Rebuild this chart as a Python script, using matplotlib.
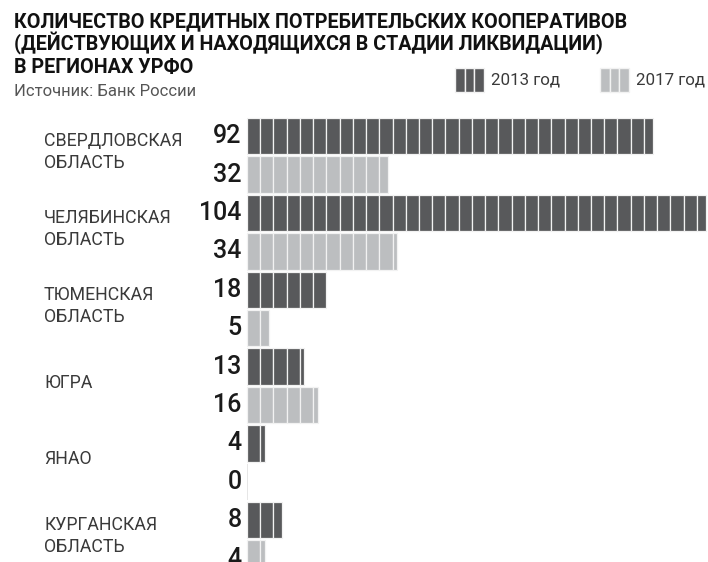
import matplotlib
matplotlib.use("Agg")
import matplotlib.pyplot as plt
from matplotlib.patches import Rectangle
from matplotlib.transforms import blended_transform_factory
import numpy as np

regions = ["СВЕРДЛОВСКАЯ\nОБЛАСТЬ", "ЧЕЛЯБИНСКАЯ\nОБЛАСТЬ", "ТЮМЕНСКАЯ\nОБЛАСТЬ",
           "ЮГРА", "ЯНАО", "КУРГАНСКАЯ\nОБЛАСТЬ"]
values_2013 = [92, 104, 18, 13, 4, 8]
values_2017 = [32, 34, 5, 16, 0, 4]
series_labels = ["2013 год", "2017 год"]

title_lines = ["КОЛИЧЕСТВО КРЕДИТНЫХ ПОТРЕБИТЕЛЬСКИХ КООПЕРАТИВОВ",
               "(ДЕЙСТВУЮЩИХ И НАХОДЯЩИХСЯ В СТАДИИ ЛИКВИДАЦИИ)",
               "В РЕГИОНАХ УРФО"]
source = "Источник: Банк России"

DARK = "#58595b"
LIGHT = "#bcbec0"
TEXT = "#3a3a3a"
SEG = 3.0

W, H = 708, 562
fig = plt.figure(figsize=(W / 100, H / 100), dpi=100)
fig.patch.set_facecolor("white")

ax_left, ax_top = 247, 117
ax = fig.add_axes([ax_left / W, 0, (W - ax_left) / W, (H - ax_top) / H])
ax.set_xlim(0, (W - ax_left) / 4.41)
ax.set_ylim(11.09, -0.5)
ax.axis("off")

bar_h = 0.95
for k in range(len(regions)):
    for j, (vals, col) in enumerate([(values_2013, DARK), (values_2017, LIGHT)]):
        v = vals[k]
        y = 2 * k + j
        if v > 0:
            lefts = np.arange(0, v, SEG)
            widths = np.minimum(SEG, v - lefts)
            ax.barh([y] * len(lefts), widths, left=lefts, height=bar_h,
                    color=col, edgecolor="#f2f2f2", linewidth=0.9, clip_on=False)
        else:
            ax.barh([y], [0.25], left=0, height=bar_h, color="#e6e6e6",
                    linewidth=0)
        ax.annotate(str(v), xy=(0, y), xytext=(-4, 0), textcoords="offset points",
                    ha="right", va="center", fontsize=18, color="#1a1a1a",
                    family=["Roboto", "DejaVu Sans"], fontweight="medium",
                    annotation_clip=False)

tr = blended_transform_factory(fig.transFigure, ax.transData)
for k, name in enumerate(regions):
    ax.text(44 / W, 2 * k + 0.42, name, transform=tr, ha="left", va="center",
            fontsize=12.8, color=TEXT, family=["Roboto", "DejaVu Sans"],
            linespacing=1.3)

# title & source
for line, base in zip(title_lines, [27, 50.5, 73]):
    fig.text(14 / W, 1 - base / H, line, ha="left", va="baseline", fontsize=14.2,
             fontweight="bold", color="#111111", family=["Roboto", "DejaVu Sans"])
fig.text(14 / W, 1 - 92 / H, source, ha="left", va="center", fontsize=12,
         color="#555555", family=["Roboto", "DejaVu Sans"])

# legend
for (x0, col, lab) in [(455, DARK, series_labels[0]), (600, LIGHT, series_labels[1])]:
    sw = 29 / 3
    for i in range(3):
        fig.patches.append(Rectangle(((x0 + i * sw) / W, 1 - 92 / H), sw / W, 24 / H,
                                     transform=fig.transFigure, facecolor=col,
                                     edgecolor="#f2f2f2", linewidth=1.0))
    fig.text((x0 + 36) / W, 1 - 80 / H, lab, ha="left", va="center", fontsize=12.2,
             color=TEXT, family=["Roboto", "DejaVu Sans"])

fig.savefig("out.png", dpi=100, facecolor="white")
